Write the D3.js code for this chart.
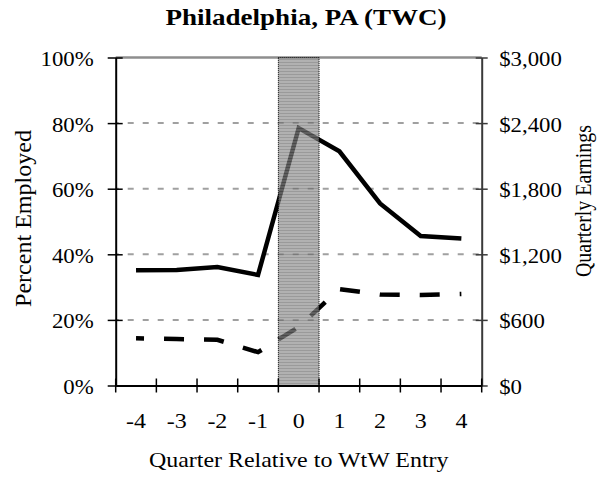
<!DOCTYPE html>
<html>
<head>
<meta charset="utf-8">
<script src="https://cdn.jsdelivr.net/npm/d3@7"></script>
<style>
  body { margin: 0; background: #fff; }
</style>
</head>
<body>
<svg id="chart" width="608" height="481"></svg>
<script>
// data
const quarters = ["-4", "-3", "-2", "-1", "0", "1", "2", "3", "4"];
const pctEmployed = [0.351, 0.352, 0.361, 0.337, 0.785, 0.714, 0.555, 0.456, 0.448];
const earnings = [432, 425, 418, 305, 535, 882, 832, 827, 837];
const pctTicks = [0, 0.2, 0.4, 0.6, 0.8, 1];
const earnTicks = [0, 600, 1200, 1800, 2400, 3000];
const shadedQuarter = "0";

const FONT = "'Liberation Serif', 'Times New Roman', Times, serif";
const svg = d3.select("#chart");
const L = 115.7, R = 481.7, T = 57.5, B = 385.5;
const STRETCH = 1.14;

const x = d3.scaleBand().domain(quarters).range([L, R]).padding(0);
const yL = d3.scaleLinear().domain([0, 1]).range([B, T]);
const yR = d3.scaleLinear().domain([0, 3000]).range([B, T]);

// widen text a bit, the reference looks horizontally stretched
function widen(sel) {
  sel.each(function () {
    const w = this.getComputedTextLength();
    d3.select(this).attr("textLength", w * STRETCH).attr("lengthAdjust", "spacingAndGlyphs");
  });
}

// hatch pattern for the shaded quarter
const defs = svg.append("defs");
const pat = defs.append("pattern")
  .attr("id", "stripes")
  .attr("patternUnits", "userSpaceOnUse")
  .attr("width", 6).attr("height", 3);
pat.append("rect").attr("width", 6).attr("height", 3).attr("fill", "#8c8c8c");
pat.append("rect").attr("y", 2).attr("width", 6).attr("height", 1).attr("fill", "#6a6a6a");

// gridlines
svg.append("g")
  .selectAll("line")
  .data(pctTicks.filter(d => d > 0 && d < 1))
  .enter().append("line")
  .attr("x1", L).attr("x2", R)
  .attr("y1", d => yL(d)).attr("y2", d => yL(d))
  .attr("stroke", "#a0a0a0")
  .attr("stroke-width", 2)
  .attr("stroke-dasharray", "6,9")
  .attr("stroke-dashoffset", -12);

// top border
svg.append("line")
  .attr("x1", L).attr("x2", R)
  .attr("y1", yL(1)).attr("y2", yL(1))
  .attr("stroke", "#8e8e8e")
  .attr("stroke-width", 2.5);

// lines
const lineEmp = d3.line()
  .x((d, i) => x(quarters[i]) + x.bandwidth() / 2)
  .y(d => yL(d));
const lineEarn = d3.line()
  .x((d, i) => x(quarters[i]) + x.bandwidth() / 2)
  .y(d => yR(d));

svg.append("path")
  .datum(pctEmployed)
  .attr("d", lineEmp)
  .attr("fill", "none")
  .attr("stroke", "#000")
  .attr("stroke-width", 4.5)
  .attr("stroke-linejoin", "miter");

svg.append("path")
  .datum(earnings)
  .attr("d", lineEarn)
  .attr("fill", "none")
  .attr("stroke", "#000")
  .attr("stroke-width", 4.5)
  .attr("stroke-dasharray", "20,20")
  .attr("stroke-dashoffset", 12);

// shaded quarter of entry, sits over the lines
svg.append("rect")
  .attr("x", x(shadedQuarter))
  .attr("y", T)
  .attr("width", x.bandwidth())
  .attr("height", B - T)
  .attr("fill", "url(#stripes)")
  .attr("opacity", 0.68);
svg.append("rect")
  .attr("x", x(shadedQuarter))
  .attr("y", T)
  .attr("width", x.bandwidth())
  .attr("height", B - T)
  .attr("fill", "none")
  .attr("stroke", "#000")
  .attr("stroke-width", 1)
  .attr("stroke-dasharray", "1,1");

// left axis
const gL = svg.append("g")
  .attr("transform", `translate(${L},0)`)
  .call(d3.axisLeft(yL).tickValues(pctTicks).tickFormat(d3.format(".0%")).tickSize(7).tickSizeOuter(0));
gL.select(".domain").attr("stroke", "#000").attr("stroke-width", 2);
gL.selectAll(".tick line").attr("x1", 7).attr("x2", -8).attr("stroke", "#000").attr("stroke-width", 1.5);
gL.selectAll(".tick text")
  .attr("x", -22).attr("dy", "0.4em")
  .style("font-size", "20px");

// right axis
const gR = svg.append("g")
  .attr("transform", `translate(${R},0)`)
  .call(d3.axisRight(yR).tickValues(earnTicks).tickFormat(d => "$" + d3.format(",")(d)).tickSize(6).tickSizeOuter(0));
gR.select(".domain").attr("stroke", "#3a3a3a").attr("stroke-width", 2);
gR.selectAll(".tick line").attr("x1", -6).attr("x2", 6).attr("stroke", "#3a3a3a").attr("stroke-width", 1.5);
gR.selectAll(".tick text")
  .attr("x", 17.5).attr("dy", "0.4em")
  .style("font-size", "20px");

// x axis, ticks on the band edges
const gX = svg.append("g")
  .attr("transform", `translate(0,${B})`)
  .call(d3.axisBottom(x).tickSize(0).tickSizeOuter(0));
gX.select(".domain").attr("stroke", "#000").attr("stroke-width", 2);
gX.selectAll(".tick line").remove();
gX.selectAll(".tick text")
  .attr("y", 42).attr("dy", 0)
  .style("font-size", "21px");
const edges = quarters.map(q => x(q)).concat([R]);
gX.selectAll(".edge")
  .data(edges)
  .enter().append("line")
  .attr("class", "edge")
  .attr("x1", d => d).attr("x2", d => d)
  .attr("y1", -7).attr("y2", 7)
  .attr("stroke", "#000")
  .attr("stroke-width", 1.5);

// title and axis titles
svg.append("text")
  .attr("x", 306).attr("y", 24.5)
  .attr("text-anchor", "middle")
  .style("font-size", "24px")
  .style("font-weight", "bold")
  .attr("textLength", 281)
  .attr("lengthAdjust", "spacingAndGlyphs")
  .text("Philadelphia, PA (TWC)");

svg.append("text")
  .attr("class", "xtitle")
  .attr("x", (L + R) / 2).attr("y", 467)
  .attr("text-anchor", "middle")
  .style("font-size", "21px")
  .text("Quarter Relative to WtW Entry");

svg.append("text")
  .attr("transform", "translate(31,218.5) rotate(-90)")
  .attr("text-anchor", "middle")
  .style("font-size", "23px")
  .attr("textLength", 177)
  .attr("lengthAdjust", "spacingAndGlyphs")
  .text("Percent Employed");

svg.append("text")
  .attr("transform", "translate(591,201) rotate(-90)")
  .attr("text-anchor", "middle")
  .style("font-size", "23px")
  .attr("textLength", 152)
  .attr("lengthAdjust", "spacingAndGlyphs")
  .text("Quarterly Earnings");

svg.selectAll("text").style("font-family", FONT).attr("fill", "#000");
widen(svg.selectAll(".tick text"));
widen(svg.selectAll(".xtitle"));
</script>
</body>
</html>
